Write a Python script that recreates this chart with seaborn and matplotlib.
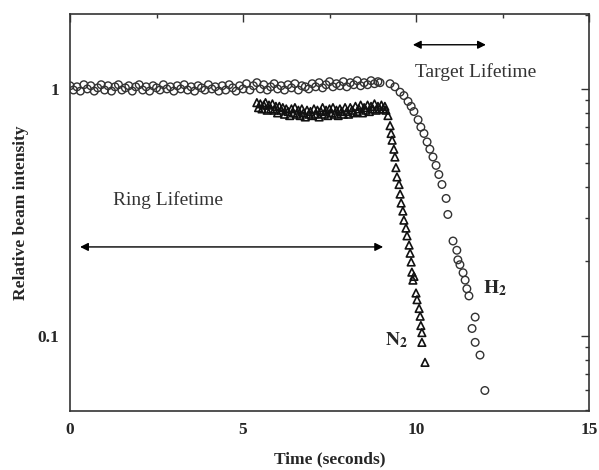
import pandas as pd
import seaborn as sns
import matplotlib.pyplot as plt
from matplotlib.ticker import FixedLocator, NullFormatter, FixedFormatter

# H2 target: beam intensity (time in s, relative intensity)
h2_time = [0.0, 0.1, 0.2, 0.3, 0.4, 0.5, 0.6, 0.7, 0.8, 0.9,
           1.0, 1.1, 1.2, 1.3, 1.4, 1.5, 1.6, 1.7, 1.8, 1.9,
           2.0, 2.1, 2.2, 2.3, 2.4, 2.5, 2.6, 2.7, 2.8, 2.9,
           3.0, 3.1, 3.2, 3.3, 3.4, 3.5, 3.6, 3.7, 3.8, 3.9,
           4.0, 4.1, 4.2, 4.3, 4.4, 4.5, 4.6, 4.7, 4.8, 4.9,
           5.0, 5.1, 5.2, 5.3, 5.4, 5.5, 5.6, 5.7, 5.8, 5.9,
           6.0, 6.1, 6.2, 6.3, 6.4, 6.5, 6.6, 6.7, 6.8, 6.9,
           7.0, 7.1, 7.2, 7.3, 7.4, 7.5, 7.6, 7.7, 7.8, 7.9,
           8.0, 8.1, 8.2, 8.3, 8.4, 8.5, 8.6, 8.7, 8.8, 8.9,
           8.96, 9.25, 9.39, 9.54, 9.65, 9.77, 9.86, 9.94, 10.06, 10.14,
           10.23, 10.32, 10.40, 10.49, 10.58, 10.66, 10.75, 10.87, 10.92, 11.07,
           11.18, 11.21, 11.27, 11.36, 11.42, 11.47, 11.53, 11.71, 11.62, 11.71,
           11.85, 11.99]
h2_value = [1.03, 0.99, 1.02, 0.98, 1.04, 1.00, 1.03, 0.98, 1.01, 1.04,
            0.99, 1.03, 0.98, 1.02, 1.04, 0.99, 1.01, 1.03, 0.98, 1.02,
            1.04, 0.99, 1.02, 0.98, 1.03, 1.01, 0.99, 1.04, 1.00, 1.02,
            0.98, 1.03, 1.00, 1.04, 0.99, 1.02, 0.98, 1.03, 1.01, 0.99,
            1.04, 1.00, 1.02, 0.98, 1.03, 0.99, 1.04, 1.01, 0.98, 1.03,
            1.00, 1.05, 0.99, 1.03, 1.06, 1.00, 1.04, 0.99, 1.02, 1.05,
            1.00, 1.03, 0.99, 1.04, 1.01, 1.05, 0.99, 1.03, 1.02, 1.00,
            1.05, 1.02, 1.06, 1.01, 1.04, 1.07, 1.02, 1.05, 1.03, 1.07,
            1.02, 1.06, 1.04, 1.08, 1.03, 1.06, 1.04, 1.08, 1.05, 1.07,
            1.06, 1.05, 1.02, 0.97, 0.94, 0.89, 0.85, 0.81, 0.75, 0.70,
            0.66, 0.61, 0.57, 0.53, 0.49, 0.45, 0.41, 0.36, 0.31, 0.242,
            0.222, 0.203, 0.194, 0.180, 0.168, 0.155, 0.145, 0.119, 0.107, 0.094,
            0.0835, 0.060]

# N2 target
n2_time = [5.40, 5.45, 5.50, 5.55, 5.60, 5.65, 5.70, 5.75, 5.80, 5.85, 5.90, 5.95,
           6.00, 6.05, 6.10, 6.15, 6.20, 6.25, 6.30, 6.35, 6.40, 6.45,
           6.50, 6.55, 6.60, 6.65, 6.70, 6.75, 6.80, 6.85, 6.90, 6.95,
           7.00, 7.05, 7.10, 7.15, 7.20, 7.25, 7.30, 7.35, 7.40, 7.45,
           7.50, 7.55, 7.60, 7.65, 7.70, 7.75, 7.80, 7.85, 7.90, 7.95,
           8.00, 8.05, 8.10, 8.15, 8.20, 8.25, 8.30, 8.35, 8.40, 8.45,
           8.50, 8.55, 8.60, 8.65, 8.70, 8.75, 8.80, 8.85, 8.90, 8.95,
           9.00, 9.05, 9.10,
           9.13, 9.19, 9.25, 9.28, 9.31, 9.36, 9.39, 9.42, 9.45, 9.51,
           9.54, 9.57, 9.62, 9.65, 9.71, 9.74, 9.80, 9.83, 9.86, 9.88,
           9.91, 9.94, 10.00, 10.03, 10.09, 10.12, 10.14, 10.17, 10.17, 10.26]
n2_value = [0.88, 0.84, 0.87, 0.83, 0.86, 0.88, 0.82, 0.86, 0.83, 0.87, 0.82, 0.85,
            0.80, 0.85, 0.82, 0.84, 0.79, 0.83, 0.81, 0.78, 0.83, 0.80,
            0.84, 0.79, 0.82, 0.78, 0.83, 0.80, 0.77, 0.82, 0.79, 0.81,
            0.78, 0.83, 0.79, 0.82, 0.77, 0.81, 0.84, 0.79, 0.82, 0.78,
            0.83, 0.80, 0.84, 0.79, 0.82, 0.78, 0.83, 0.81, 0.79, 0.84,
            0.81, 0.79, 0.84, 0.82, 0.80, 0.85, 0.81, 0.83, 0.86, 0.80,
            0.84, 0.82, 0.86, 0.81, 0.85, 0.83, 0.87, 0.82, 0.85, 0.83,
            0.86, 0.83, 0.85,
            0.82, 0.78, 0.71, 0.66, 0.62, 0.57, 0.53, 0.48, 0.44, 0.41,
            0.375, 0.345, 0.32, 0.294, 0.273, 0.254, 0.233, 0.216, 0.199, 0.181,
            0.168, 0.174, 0.149, 0.140, 0.129, 0.120, 0.110, 0.103, 0.094, 0.078]

x_ticks = [0, 5, 10, 15]
y_ticks = [0.1, 1]
y_tick_labels = ["0.1", "1"]

df_h2 = pd.DataFrame({"time": h2_time, "intensity": h2_value})
df_n2 = pd.DataFrame({"time": n2_time, "intensity": n2_value})

sns.set_style("white")
plt.rcParams["font.family"] = ["Liberation Serif", "DejaVu Serif"]
plt.rcParams["mathtext.fontset"] = "stix"

fig = plt.figure(figsize=(5.99, 4.70), dpi=100)
ax = fig.add_axes([0.1169, 0.1262, 0.8664, 0.8438])

sns.scatterplot(data=df_h2, x="time", y="intensity", marker="o", s=30,
                color="none", edgecolor="#333333", linewidth=1.0, ax=ax)
sns.scatterplot(data=df_n2, x="time", y="intensity", marker="^", s=30,
                color="none", edgecolor="#111111", linewidth=1.2, ax=ax)

ax.set_yscale("log")
ax.set_xlim(0, 15)
ax.set_ylim(0.0497, 2.01)

ax.xaxis.set_major_locator(FixedLocator(x_ticks))
ax.xaxis.set_minor_locator(FixedLocator([2.5, 7.5, 12.5]))
ax.set_xticklabels([str(t) for t in x_ticks])
ax.yaxis.set_major_locator(FixedLocator(y_ticks))
ax.yaxis.set_major_formatter(FixedFormatter(y_tick_labels))
ax.yaxis.set_minor_locator(FixedLocator([0.05, 0.06, 0.07, 0.08, 0.09, 0.2, 0.3, 0.4,
                                         0.5, 0.6, 0.7, 0.8, 0.9, 2.0]))
ax.yaxis.set_minor_formatter(NullFormatter())

ax.tick_params(which="both", direction="in", top=True, right=True,
               color="#333333", width=1.0)
ax.tick_params(which="major", length=6, labelsize=12.5, pad=8)
ax.tick_params(which="minor", length=3)
for lab in ax.get_xticklabels() + ax.get_yticklabels():
    lab.set_fontweight("bold")
for sp in ax.spines.values():
    sp.set_linewidth(1.2)
    sp.set_color("#333333")

ax.set_xlabel("Time (seconds)", fontsize=12.5, fontweight="bold", labelpad=10)
ax.set_ylabel("Relative beam intensity", fontsize=12.5, fontweight="bold", labelpad=6)

# annotations
ax.annotate("", xy=(0.29, 0.229), xytext=(9.05, 0.229),
            arrowprops=dict(arrowstyle="<|-|>", color="black", lw=1.0,
                            mutation_scale=12, shrinkA=0, shrinkB=0))
ax.annotate("", xy=(9.91, 1.51), xytext=(12.02, 1.51),
            arrowprops=dict(arrowstyle="<|-|>", color="black", lw=1.0,
                            mutation_scale=12, shrinkA=0, shrinkB=0))
ax.text(1.24, 0.355, "Ring Lifetime", fontsize=14, color="#333333", va="center")
ax.text(9.97, 1.17, "Target Lifetime", fontsize=14, color="#333333", va="center")
ax.text(11.94, 0.156, r"$\mathbf{H}_{\mathbf{2}}$", fontsize=14, va="center")
ax.text(9.10, 0.096, r"$\mathbf{N}_{\mathbf{2}}$", fontsize=14, va="center")

fig.savefig("out.png", dpi=100)
